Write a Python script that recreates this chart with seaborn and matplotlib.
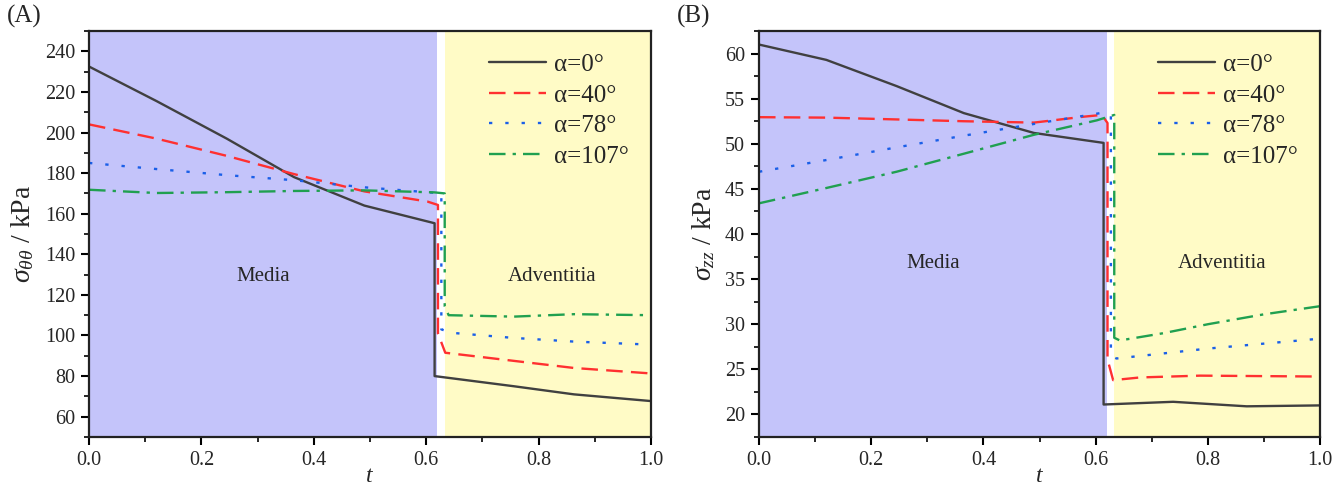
import numpy as np
import pandas as pd
import matplotlib
matplotlib.use("Agg")
import matplotlib.pyplot as plt
import seaborn as sns

# --- data ---
labels = ["α=0°", "α=40°", "α=78°", "α=107°"]

# panel A: circumferential stress sigma_theta_theta (kPa)
t_a0 = [0.0, 0.12, 0.245, 0.365, 0.49, 0.615, 0.615, 0.756, 0.863, 1.0]
s_a0 = [232.5, 215.5, 197.0, 178.0, 164.0, 155.3, 80.0, 75.0, 71.0, 67.7]
t_a40 = [0.0, 0.12, 0.245, 0.365, 0.49, 0.602, 0.621, 0.621, 0.634, 0.756, 0.863, 1.0]
s_a40 = [204.0, 197.0, 188.5, 179.5, 171.0, 166.0, 164.3, 101.0, 91.5, 87.5, 84.0, 81.3]
t_a78 = [0.0, 0.12, 0.245, 0.365, 0.49, 0.615, 0.627, 0.627, 0.646, 0.756, 0.863, 1.0]
s_a78 = [185.0, 182.0, 179.0, 176.5, 173.0, 170.3, 170.0, 103.0, 101.3, 98.8, 97.0, 95.5]
t_a107 = [0.0, 0.12, 0.245, 0.365, 0.49, 0.615, 0.633, 0.633, 0.640, 0.756, 0.863, 1.0]
s_a107 = [171.8, 170.2, 170.6, 171.2, 171.5, 170.5, 170.0, 114.4, 110.0, 109.3, 110.5, 110.0]

# panel B: axial stress sigma_zz (kPa)
t_b0 = [0.0, 0.12, 0.245, 0.365, 0.49, 0.614, 0.614, 0.738, 0.869, 1.0]
s_b0 = [61.0, 59.3, 56.4, 53.4, 51.2, 50.1, 21.1, 21.4, 20.9, 21.0]
t_b40 = [0.0, 0.12, 0.245, 0.365, 0.49, 0.578, 0.611, 0.621, 0.621, 0.631, 0.679, 0.786, 1.0]
s_b40 = [52.95, 52.9, 52.7, 52.5, 52.35, 53.0, 53.2, 52.3, 26.1, 23.8, 24.1, 24.3, 24.2]
t_b78 = [0.0, 0.12, 0.245, 0.365, 0.49, 0.608, 0.627, 0.627, 0.637, 0.8, 1.0]
s_b78 = [46.9, 48.2, 49.6, 50.9, 52.2, 53.4, 53.2, 26.5, 26.2, 27.3, 28.4]
t_b107 = [0.0, 0.12, 0.245, 0.365, 0.49, 0.602, 0.633, 0.633, 0.643, 0.72, 0.8, 0.9, 1.0]
s_b107 = [43.4, 45.1, 46.9, 48.9, 51.0, 52.6, 53.2, 28.5, 28.2, 29.0, 30.0, 31.1, 32.0]

media_span = (0.0, 0.62)
adv_span = (0.633, 1.0)

colors = ["#404040", "#ff3030", "#1a5fe8", "#20a050"]
styles = ["-", (0, (7, 3.5)), (0, (1.4, 5.5)), (0, (7, 3, 1.4, 3))]

sns.set_theme(style="ticks")
plt.rcParams["font.family"] = ["Liberation Serif", "DejaVu Serif"]
plt.rcParams["mathtext.fontset"] = "custom"
plt.rcParams["mathtext.rm"] = "Liberation Serif"
plt.rcParams["mathtext.it"] = "Liberation Serif:italic"

fig = plt.figure(figsize=(13.41, 4.87), dpi=100)
ax_a = fig.add_axes([0.0664, 0.1027, 0.419, 0.8336])
ax_b = fig.add_axes([0.566, 0.1027, 0.4185, 0.8336])


def draw_panel(ax, series, ylim, major, minor, ylabel, text_y):
    ax.axvspan(*media_span, color="#c4c4fa", lw=0, zorder=0)
    ax.axvspan(*adv_span, color="#fffbc6", lw=0, zorder=0)
    for (t, s), lab, c, ls in zip(series, labels, colors, styles):
        df = pd.DataFrame({"t": t, "s": s})
        sns.lineplot(data=df, x="t", y="s", ax=ax, color=c, linestyle=ls,
                     linewidth=1.7, estimator=None, sort=False, label=lab)
    ax.set_xlim(0, 1.0)
    ax.set_ylim(*ylim)
    ax.set_xticks(np.arange(0, 1.01, 0.2))
    ax.set_xticks(np.arange(0, 1.01, 0.1), minor=True)
    ax.set_yticks(np.arange(major[0], major[1] + 0.1, major[2]))
    ax.set_yticks(np.arange(minor[0], minor[1] + 0.1, minor[2]), minor=True)
    ax.xaxis.set_major_formatter(matplotlib.ticker.FormatStrFormatter("%.1f"))
    ax.tick_params(which="major", direction="out", length=6, width=1.5,
                   labelsize=14.5, color="black", pad=4)
    ax.tick_params(which="minor", direction="out", length=3.5, width=1.2,
                   color="black")
    for sp in ax.spines.values():
        sp.set_linewidth(1.6)
        sp.set_color("#222222")
    ax.set_xlabel("$t$", fontsize=17, labelpad=-3)
    ax.set_ylabel(ylabel, fontsize=20, labelpad=6)
    ax.text(0.31, text_y, "Media", fontsize=15, ha="center", va="center")
    ax.text(0.825, text_y, "Adventitia", fontsize=15, ha="center", va="center")
    ax.legend(loc="upper right", frameon=False, fontsize=18,
              handlelength=2.3, handletextpad=0.3, labelspacing=0.32,
              borderaxespad=0.5)


draw_panel(ax_a, [(t_a0, s_a0), (t_a40, s_a40), (t_a78, s_a78), (t_a107, s_a107)],
           (50, 250), (60, 240, 20), (50, 250, 10),
           r"$\sigma_{\theta\theta}$ / kPa", 129)
draw_panel(ax_b, [(t_b0, s_b0), (t_b40, s_b40), (t_b78, s_b78), (t_b107, s_b107)],
           (17.6, 62.4), (20, 60, 5), (17.5, 62.5, 2.5),
           r"$\sigma_{zz}$ / kPa", 36.7)

fig.text(0.005, 0.99, "(A)", fontsize=18, va="top", ha="left")
fig.text(0.505, 0.99, "(B)", fontsize=18, va="top", ha="left")

fig.savefig("out.png", dpi=100)
